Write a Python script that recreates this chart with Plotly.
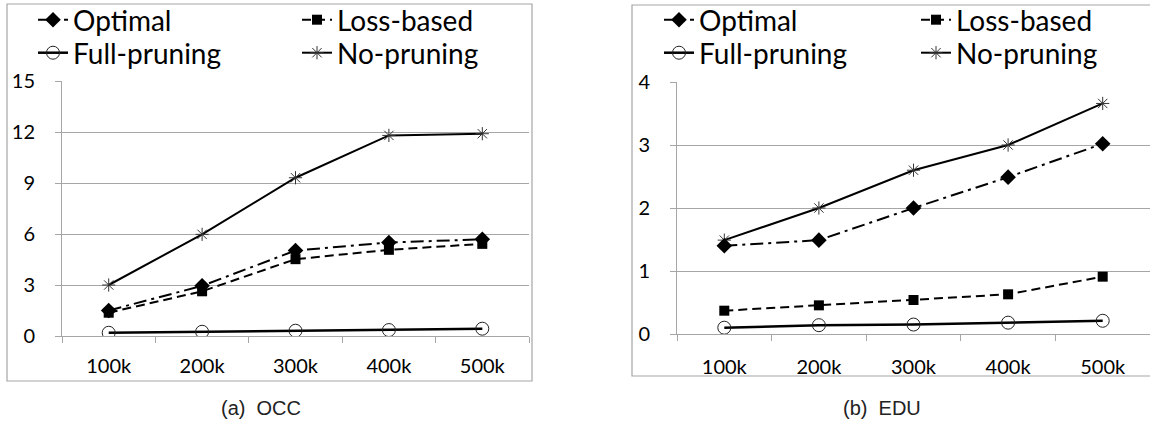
import plotly.graph_objects as go

categories = ["100k", "200k", "300k", "400k", "500k"]

occ_optimal = [1.5, 2.95, 5.03, 5.5, 5.69]
occ_loss = [1.37, 2.63, 4.52, 5.07, 5.42]
occ_full = [0.19, 0.25, 0.31, 0.35, 0.43]
occ_none = [3.0, 5.98, 9.31, 11.8, 11.9]

edu_optimal = [1.40, 1.49, 2.0, 2.49, 3.02]
edu_loss = [0.37, 0.455, 0.54, 0.63, 0.91]
edu_full = [0.10, 0.14, 0.15, 0.18, 0.21]
edu_none = [1.49, 2.0, 2.6, 3.0, 3.66]

occ_yticks = [0, 3, 6, 9, 12, 15]
edu_yticks = [0, 1, 2, 3, 4]

W, H = 1150, 423
GRID = "#a6a6a6"
FONT = "Lato"

def px(x):
    return x / W

def py(y):
    return (H - y) / H

series_style = {
    "Optimal": dict(line=dict(color="black", width=2, dash="13px,5px,3px,5px"),
                    marker=dict(symbol="diamond", size=12, color="black")),
    "Loss-based": dict(line=dict(color="black", width=2, dash="9px,5px"),
                       marker=dict(symbol="square", size=10, color="black")),
    "Full-pruning": dict(line=dict(color="black", width=2.5),
                         marker=dict(symbol="circle-open", size=13, color="#222",
                                     line=dict(width=1))),
    "No-pruning": dict(line=dict(color="black", width=2),
                       marker=dict(symbol="asterisk-open", size=11, color="#333",
                                   line=dict(width=1, color="#333"))),
}

fig = go.Figure()

panels = [
    ("x", "y", [occ_optimal, occ_loss, occ_full, occ_none], ("legend", "legend2")),
    ("x2", "y2", [edu_optimal, edu_loss, edu_full, edu_none], ("legend3", "legend4")),
]
names = ["Optimal", "Loss-based", "Full-pruning", "No-pruning"]
order = [3, 2, 1, 0]
for xa, ya, vals, legs in panels:
    for i in order:
        name = names[i]
        st = series_style[name]
        fig.add_trace(go.Scatter(
            x=categories, y=vals[i], name=name, mode="lines+markers",
            xaxis=xa, yaxis=ya, line=st["line"], marker=st["marker"],
            legend=legs[0] if i < 2 else legs[1], legendrank=i,
            showlegend=True, hoverinfo="skip"))

tfont = dict(family=FONT, size=20, color="black")

xcommon = dict(type="category", categoryorder="array", categoryarray=categories,
               range=[-0.5, 4.5], showgrid=False, showline=True, linecolor=GRID,
               linewidth=1, ticks="outside", ticklen=6, tickcolor=GRID,
               tickson="boundaries", tickfont=tfont,
               zeroline=False, fixedrange=True)
ycommon = dict(showgrid=True, gridcolor=GRID, gridwidth=1, showline=True,
               linecolor=GRID, linewidth=1, ticks="outside", ticklen=6,
               tickcolor=GRID, tickfont=tfont, zeroline=False,
               ticklabelstandoff=16, fixedrange=True)

legend_common = dict(orientation="h", font=dict(family=FONT, size=28, color="black"),
                     bgcolor="rgba(0,0,0,0)", entrywidthmode="pixels",
                     xanchor="left", yanchor="middle", itemclick=False,
                     itemdoubleclick=False, traceorder="normal", borderwidth=0)

fig.update_layout(
    width=W, height=H,
    margin=dict(l=0, r=0, t=0, b=0, autoexpand=False),
    paper_bgcolor="white", plot_bgcolor="white",
    xaxis=dict(xcommon, domain=[px(62), px(529)], anchor="y", ticklabelstandoff=12),
    yaxis=dict(ycommon, domain=[py(336), py(81)], range=[0, 15.001],
               tickvals=occ_yticks, anchor="x"),
    xaxis2=dict(xcommon, domain=[px(677), 1.0], anchor="y2", ticklabelstandoff=15),
    yaxis2=dict(ycommon, domain=[py(334), py(82)], range=[0, 4.0003],
                tickvals=edu_yticks, anchor="x2"),
    legend=dict(legend_common, x=px(33), y=py(20), entrywidth=219),
    legend2=dict(legend_common, x=px(33), y=py(53), entrywidth=219),
    legend3=dict(legend_common, x=px(659), y=py(20), entrywidth=212),
    legend4=dict(legend_common, x=px(659), y=py(53), entrywidth=212),
    showlegend=True,
    shapes=[
        dict(type="rect", xref="paper", yref="paper", x0=px(633), x1=1.0,
             y0=py(395), y1=py(376.5), fillcolor="white", line=dict(width=0),
             layer="above"),
        dict(type="rect", xref="paper", yref="paper", x0=px(7), x1=px(532),
             y0=py(381), y1=py(4), line=dict(color=GRID, width=1.2), layer="above"),
        dict(type="rect", xref="paper", yref="paper", x0=px(632), x1=px(1160),
             y0=py(376), y1=py(5), line=dict(color=GRID, width=1.2), layer="above"),
    ],
    annotations=[
        dict(text="(a)  OCC", x=px(261), y=py(408), xref="paper", yref="paper",
             showarrow=False, xanchor="center", yanchor="middle",
             font=dict(family="Liberation Sans", size=20, color="#222")),
        dict(text="(b)  EDU", x=px(882), y=py(408), xref="paper", yref="paper",
             showarrow=False, xanchor="center", yanchor="middle",
             font=dict(family="Liberation Sans", size=20, color="#222")),
    ],
)

fig.write_html(
    "out.html",
    config={"displayModeBar": False},
    post_script="document.documentElement.style.margin='0';"
                "document.body.style.margin='0';document.body.style.padding='0';"
                "document.body.style.overflow='hidden';",
)
